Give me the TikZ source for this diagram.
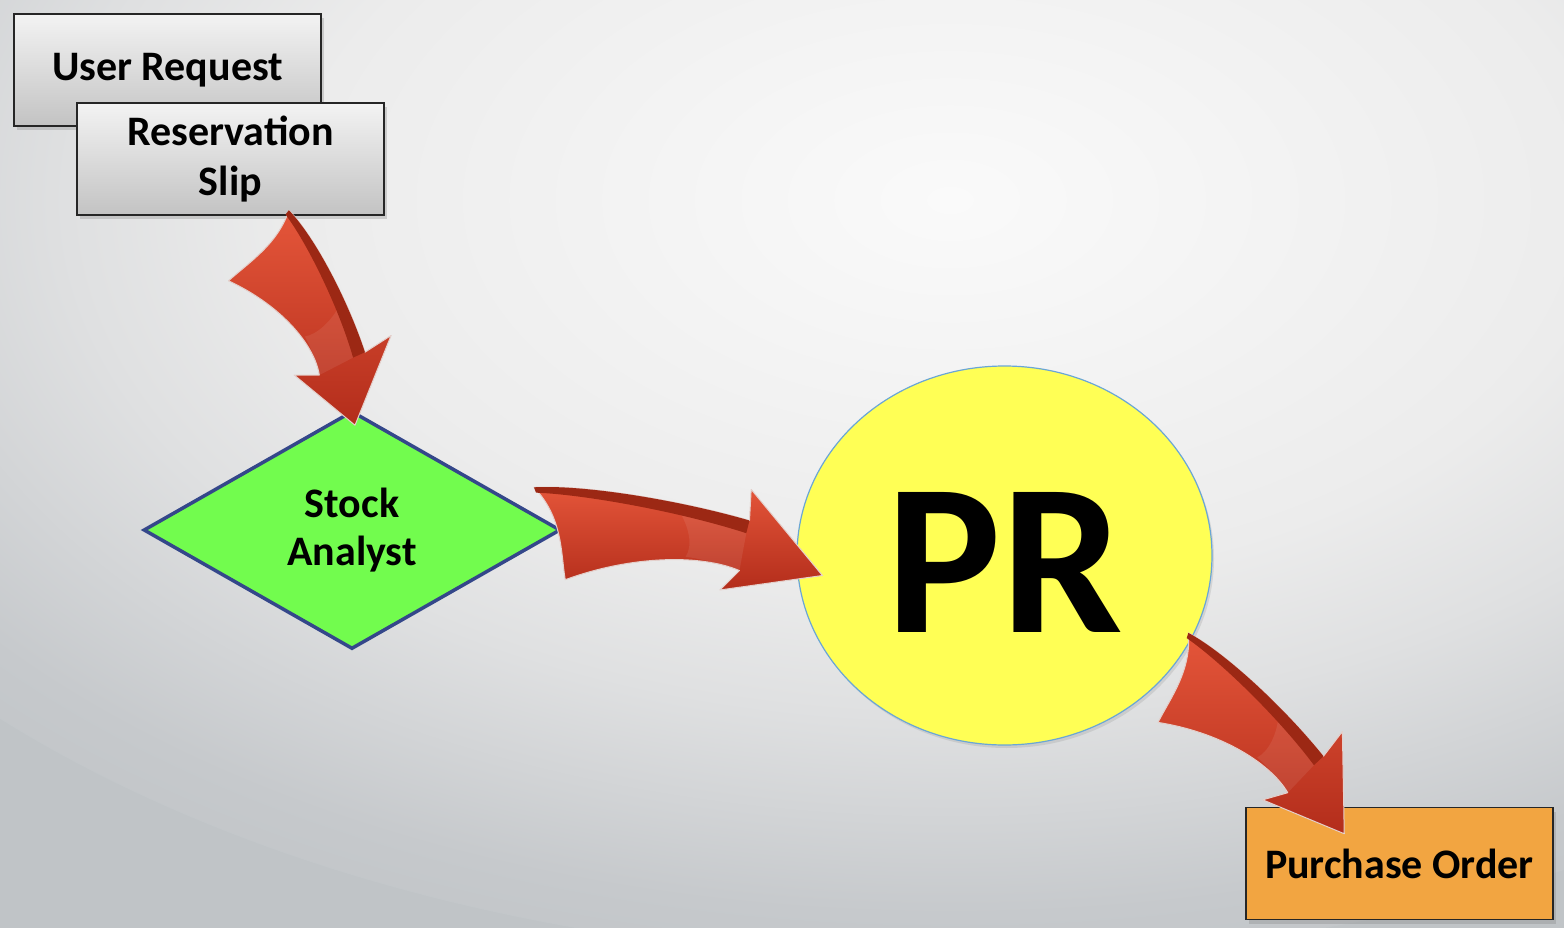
\documentclass[tikz,border=0pt]{standalone}
\usepackage{fontspec}
\setmainfont{Carlito}
\usetikzlibrary{shapes.geometric,calc,shadows}

\definecolor{bgbase}{HTML}{C0C4C7}
\definecolor{bgmid}{HTML}{C6C9CC}
\definecolor{bgside}{HTML}{DFE0E1}
\definecolor{bgsoft}{HTML}{ECECEC}
\definecolor{bgcore}{HTML}{FAFAFA}
\definecolor{boxtop}{HTML}{F3F3F3}
\definecolor{boxbot}{HTML}{C3C3C3}
\definecolor{leaf}{HTML}{72FC4E}
\definecolor{slate}{HTML}{34478A}
\definecolor{lemon}{HTML}{FFFF55}
\definecolor{skyline}{HTML}{6AA6D6}
\definecolor{amber}{HTML}{F2A541}
\definecolor{redtop}{HTML}{E5563A}
\definecolor{redbot}{HTML}{B32D1B}
\definecolor{redrim}{HTML}{9C2814}
\definecolor{halo}{HTML}{E4D0CC}

\pgfdeclareradialshading{glow}{\pgfpointorigin}{color(0bp)=(bgcore); color(12.5bp)=(bgsoft);
  color(17bp)=(bgside); color(23.5bp)=(bgmid); color(27bp)=(bgbase); color(50bp)=(bgbase)}

\tikzset{
  card/.style={draw=black!85, line width=1.5pt, minimum width=307pt, minimum height=112pt,
    inner sep=0pt, align=center, font=\fontsize{42}{50}\selectfont\bfseries,
    drop shadow={opacity=0.3, shadow xshift=3pt, shadow yshift=-4pt}},
  paper/.style={card, top color=boxtop, bottom color=boxbot},
  decision/.style={diamond, aspect=1.75, draw=slate, line width=3.5pt, fill=leaf,
    minimum width=417pt, minimum height=238pt, inner sep=0pt, align=center,
    font=\fontsize{42}{48}\selectfont\bfseries},
  bubble/.style={ellipse, draw=skyline, line width=1.2pt, fill=lemon,
    minimum width=415pt, minimum height=379pt, inner sep=0pt, text height=153pt,
    font=\fontsize{216}{216}\selectfont\bfseries,
    drop shadow={opacity=0.2, shadow xshift=2pt, shadow yshift=-3pt}}
}

\begin{document}
\begin{tikzpicture}[x=1pt,y=-1pt]
\newcommand{\fatarrow}[2]{
  \begin{scope}[x={($(#2)-(#1)$)}, y={($(#1)!1pt!90:(#2)-(#1)$)}, shift={(#1)}]
    \shade[top color=redtop, bottom color=redbot, draw=halo, line width=1pt, line join=round]
      (-0.08,46) .. controls (0.1,56) and (0.45,54) .. (0.71,44) -- (0.70,75) -- (1,0)
      -- (0.64,-29) -- (0.70,-7) .. controls (0.55,4) and (0.3,-8) .. (0.08,-41)
      .. controls (0.05,-15) and (0.04,20) .. cycle;
    \fill[white, opacity=0.08] (0.44,47) .. controls (0.5,30) and (0.52,10) .. (0.50,-1)
      .. controls (0.58,-1) and (0.64,-4) .. (0.70,-7) -- (0.705,31) -- cycle;
    \fill[redrim] (-0.08,46) .. controls (0.1,56) and (0.45,54) .. (0.71,44)
      -- (0.705,31) .. controls (0.45,43) and (0.1,46) .. (-0.07,41) -- cycle;
  \end{scope}}

\useasboundingbox (0,0) rectangle (1564,928);
\begin{scope}
  \clip (0,0) rectangle (1564,928);
  \fill[bgbase] (0,0) rectangle (1564,928);
  \shade[shading=glow] (950,200) ellipse (1300 and 760);
\end{scope}

\node[paper] (request) at (167.5,70) {User Request};
\node[paper] (slip) at (230.5,159) {Reservation\\Slip};
\node[decision] (analyst) at (352,530) {Stock\\Analyst};
\node[bubble] (pr) at (1004.5,555.5) {PR};
\node[card, fill=amber] (po) at (1399.5,863.5) {Purchase Order};

\coordinate (t1) at ($(slip.south)+(26,31)$);
\coordinate (h1) at ($(analyst.north)+(3,16)$);
\coordinate (t2) at ($(analyst.east)+(-13,6)$);
\coordinate (h2) at ($(pr.west)+(26,20)$);
\coordinate (t3) at ($(pr.center)+(167,124)$);
\coordinate (h3) at ($(po.north west)+(99,27)$);
\foreach \s/\t in {t1/h1,t2/h2,t3/h3} \fatarrow{\s}{\t};
\end{tikzpicture}
\end{document}
